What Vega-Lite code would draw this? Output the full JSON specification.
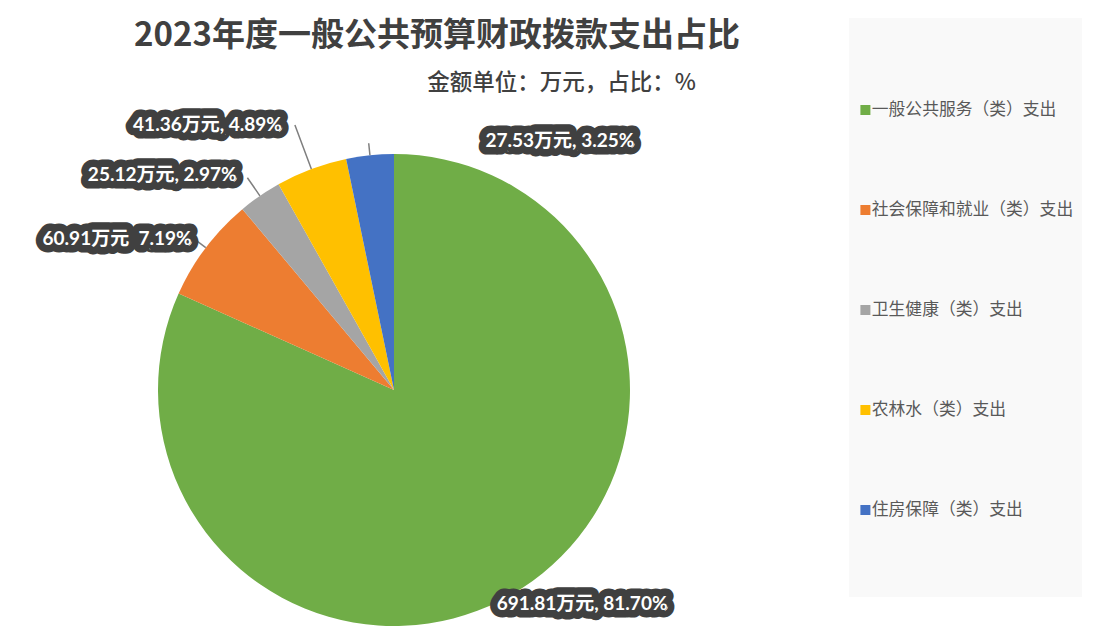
{
  "$schema": "https://vega.github.io/schema/vega-lite/v6.json",
  "width": 788,
  "height": 476,
  "autosize": {"type": "none"},
  "padding": {"left": 0, "top": 152, "right": 308, "bottom": 0},
  "background": "white",
  "config": {"view": {"stroke": null}, "font": "Noto Sans CJK SC"},
  "title": {
    "text": "2023年度一般公共预算财政拨款支出占比",
    "subtitle": "金额单位：万元，占比：%\u2002\u2800\u2800",
    "anchor": "end",
    "frame": "group",
    "dx": -48,
    "offset": -76,
    "font": "Noto Sans CJK SC",
    "fontSize": 33,
    "fontWeight": "bold",
    "color": "#404040",
    "subtitleFont": "Noto Sans CJK SC, DejaVu Sans",
    "subtitleFontSize": 22.5,
    "subtitleFontWeight": 500,
    "subtitleColor": "#404040",
    "subtitlePadding": 19
  },
  "data": {
    "values": [
      {"idx": 0, "category": "一般公共服务（类）支出", "value": 691.81, "label": "691.81万元, 81.70%"},
      {"idx": 1, "category": "社会保障和就业（类）支出", "value": 60.91, "label": "60.91万元\u00a0 7.19%"},
      {"idx": 2, "category": "卫生健康（类）支出", "value": 25.12, "label": "25.12万元, 2.97%"},
      {"idx": 3, "category": "农林水（类）支出", "value": 41.36, "label": "41.36万元, 4.89%"},
      {"idx": 4, "category": "住房保障（类）支出", "value": 27.53, "label": "27.53万元, 3.25%"}
    ]
  },
  "transform": [
    {"stack": "value", "groupby": [], "sort": [{"field": "idx", "order": "ascending"}], "as": ["v0", "v1"]},
    {"calculate": "(datum.v0 + datum.v1) / 2", "as": "mid"}
  ],
  "layer": [
    {
      "mark": {"type": "arc", "outerRadius": 236},
      "encoding": {
        "theta": {"field": "v0", "type": "quantitative", "stack": null, "scale": {"domain": [0, 846.73], "nice": false, "zero": true}},
        "theta2": {"field": "v1"},
        "color": {
          "field": "category",
          "type": "nominal",
          "scale": {
            "domain": ["一般公共服务（类）支出", "社会保障和就业（类）支出", "卫生健康（类）支出", "农林水（类）支出", "住房保障（类）支出"],
            "range": ["#70AD47", "#ED7D31", "#A5A5A5", "#FFC000", "#4472C4"]
          },
          "legend": {
            "orient": "none",
            "legendX": 849,
            "legendY": -134,
            "title": " ",
            "titleFontSize": 11,
            "titlePadding": 23,
            "fillColor": "#f9f9f9",
            "padding": 8,
            "clipHeight": 100,
            "rowPadding": 0,
            "symbolType": "square",
            "symbolSize": 100,
            "symbolStrokeWidth": 0,
            "labelFont": "Noto Sans CJK SC",
            "labelFontSize": 16.8,
            "labelColor": "#595959",
            "labelOffset": -2,
            "labelLimit": 400,
            "encode": {
              "entries": {"update": {"height": {"signal": "datum.index === 4 ? 129 : 100"}}}
            }
          }
        }
      }
    },
    {
      "transform": [{"filter": "datum.idx > 0"}],
      "mark": {
        "type": "arc",
        "radius": {"expr": "datum.idx === 3 ? 283 : datum.idx === 2 ? 258 : 248"},
        "radius2": 236,
        "stroke": "#7f7f7f",
        "strokeWidth": 1.5,
        "fillOpacity": 0
      },
      "encoding": {
        "theta": {"field": "mid", "type": "quantitative", "stack": null, "scale": {"domain": [0, 846.73], "nice": false, "zero": true}},
        "theta2": {"field": "mid"}
      }
    },
    {
      "mark": {
        "type": "text",
        "radius": {"expr": "datum.idx === 0 ? 255 : datum.idx === 1 ? 250 : datum.idx === 2 ? 261 : datum.idx === 3 ? 283 : 250"},
        "dx": {"expr": "datum.idx === 0 ? -36 : datum.idx === 1 ? -3 : datum.idx === 2 ? -9 : datum.idx === 3 ? -13 : 117"},
        "align": {"expr": "datum.idx === 0 || datum.idx === 4 ? 'left' : 'right'"},
        "baseline": "middle",
        "font": "Lato, Noto Sans CJK SC",
        "fontSize": 19,
        "fontWeight": "bold",
        "color": "#404040",
        "stroke": "#404040",
        "strokeWidth": 15,
        "strokeJoin": "round"
      },
      "encoding": {
        "theta": {"field": "mid", "type": "quantitative", "stack": null, "scale": {"domain": [0, 846.73], "nice": false, "zero": true}},
        "text": {"field": "label"}
      }
    },
    {
      "mark": {
        "type": "text",
        "radius": {"expr": "datum.idx === 0 ? 255 : datum.idx === 1 ? 250 : datum.idx === 2 ? 261 : datum.idx === 3 ? 283 : 250"},
        "dx": {"expr": "datum.idx === 0 ? -36 : datum.idx === 1 ? -3 : datum.idx === 2 ? -9 : datum.idx === 3 ? -13 : 117"},
        "align": {"expr": "datum.idx === 0 || datum.idx === 4 ? 'left' : 'right'"},
        "baseline": "middle",
        "font": "Lato, Noto Sans CJK SC",
        "fontSize": 19,
        "fontWeight": "bold",
        "color": "white"
      },
      "encoding": {
        "theta": {"field": "mid", "type": "quantitative", "stack": null, "scale": {"domain": [0, 846.73], "nice": false, "zero": true}},
        "text": {"field": "label"}
      }
    }
  ]
}
